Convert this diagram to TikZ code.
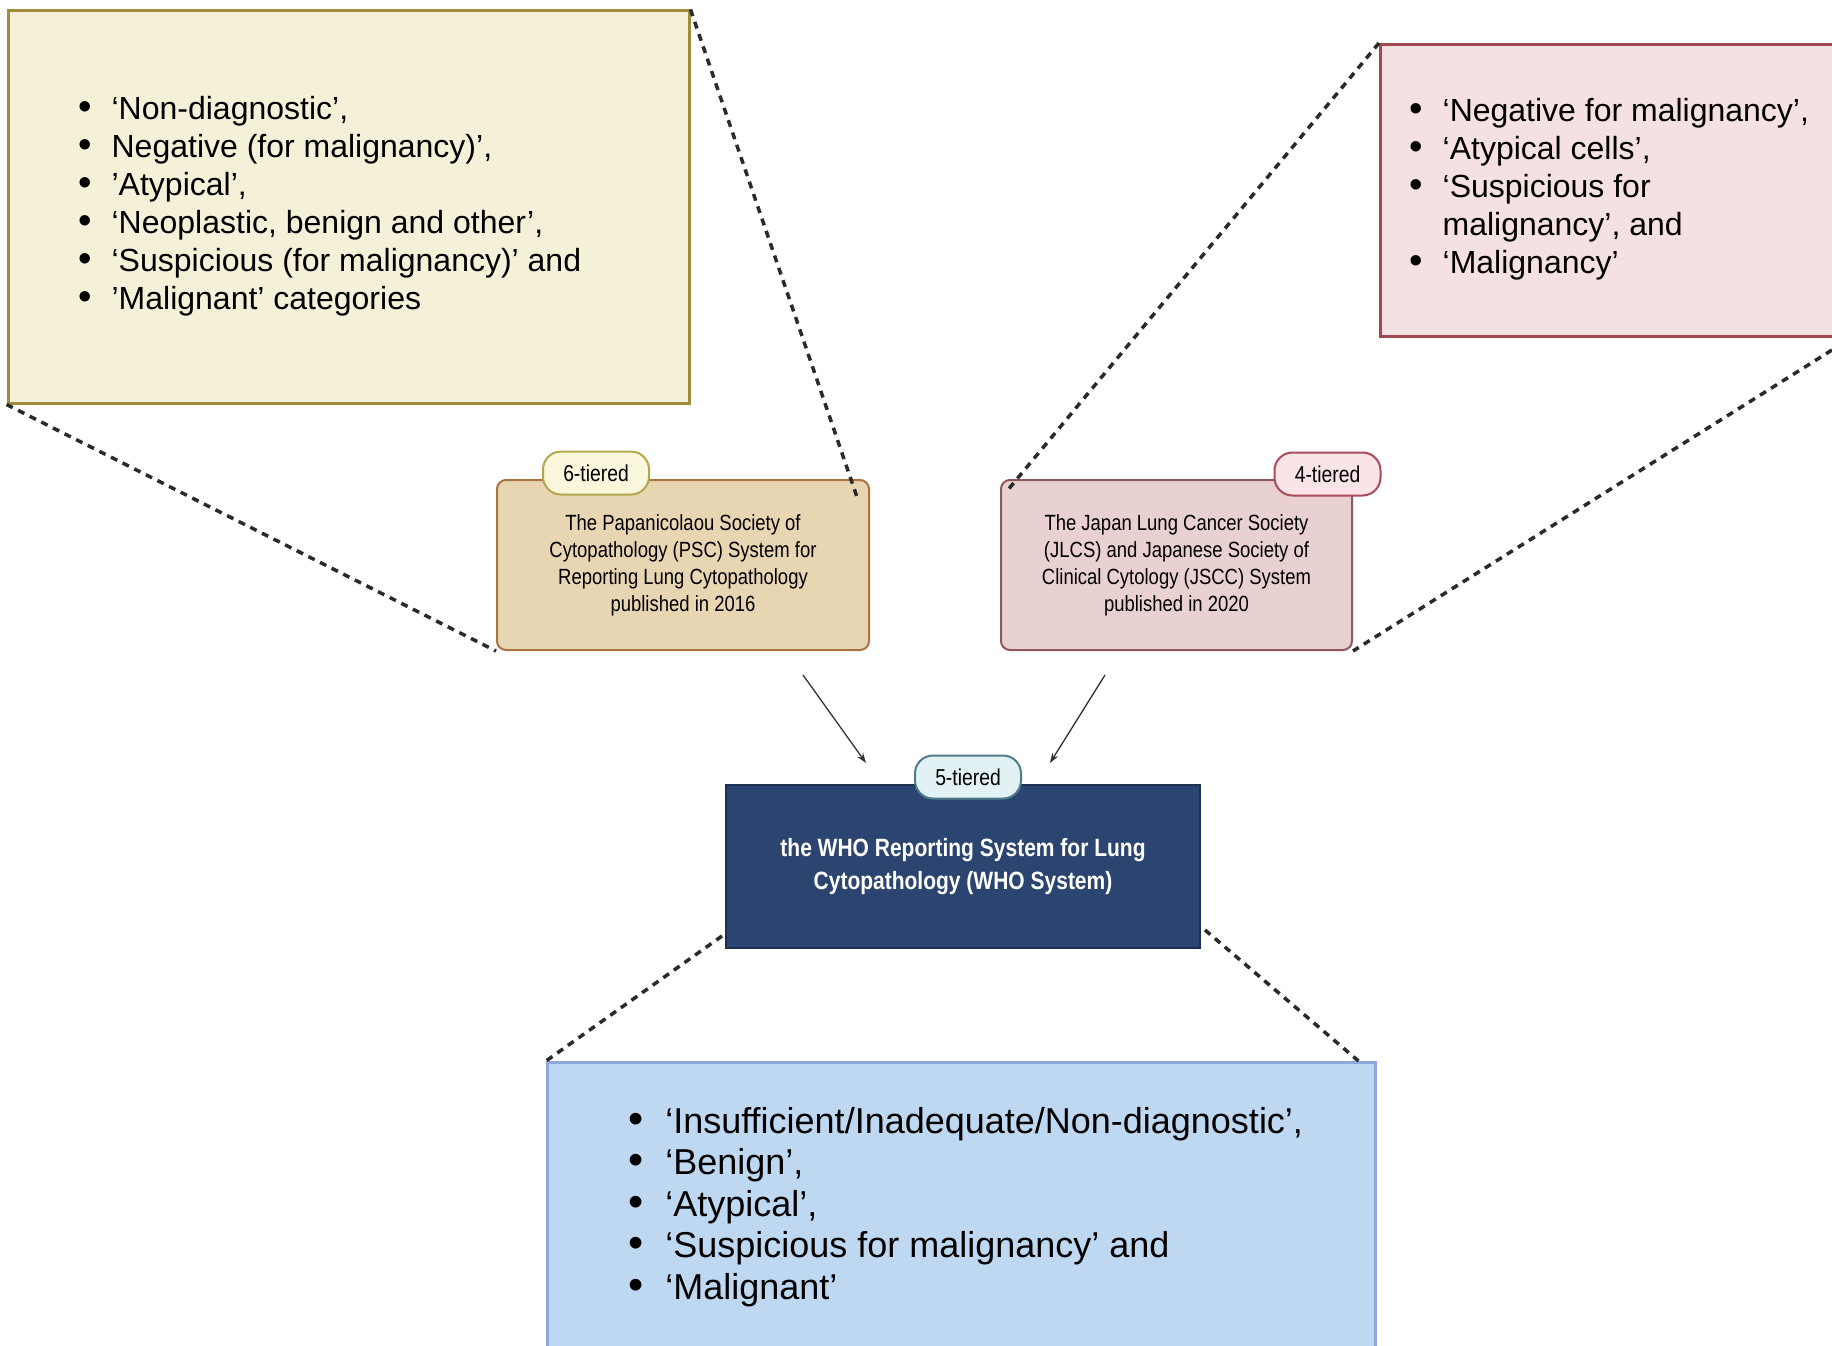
\documentclass[tikz,border=0pt]{standalone}
\usepackage{fontspec}
\setmainfont{Liberation Sans}
\newfontfamily\condf[FakeStretch=0.84]{Liberation Sans}
\usetikzlibrary{arrows.meta}
\definecolor{ylfill}{HTML}{F5F1D9}
\definecolor{ylline}{HTML}{A08C3C}
\definecolor{pkfill}{HTML}{F5E1E1}
\definecolor{pkline}{HTML}{A0474F}
\definecolor{pscfill}{HTML}{E8D6B3}
\definecolor{pscline}{HTML}{A9743F}
\definecolor{sixfill}{HTML}{FBF7DD}
\definecolor{sixline}{HTML}{B4A64C}
\definecolor{jlfill}{HTML}{E9D1D1}
\definecolor{jlline}{HTML}{8C5A5A}
\definecolor{fourfill}{HTML}{FBE4E8}
\definecolor{fourline}{HTML}{A84A5A}
\definecolor{whofill}{HTML}{2C4570}
\definecolor{wholine}{HTML}{1F2F50}
\definecolor{fivefill}{HTML}{E2F1F4}
\definecolor{fiveline}{HTML}{4C7C88}
\definecolor{blfill}{HTML}{BFD8F1}
\definecolor{blline}{HTML}{8EA9D9}
\definecolor{dashc}{HTML}{2A2A2A}
\newcommand{\bul}{\scalebox{1.2}{\textbullet}}
\tikzset{
  bigbox/.style={rectangle, line width=3pt, inner sep=0pt},
  sysbox/.style={rectangle, rounded corners=9pt, line width=2pt, inner sep=0pt,
     align=center, font=\condf\fontsize{22}{27}\selectfont},
  tagbox/.style={rectangle, rounded corners=18pt, line width=2pt, inner sep=0pt,
     minimum width=106pt, minimum height=43pt, font=\condf\fontsize{23}{27}\selectfont},
  listtext/.style={anchor=west, inner sep=0pt, align=left},
  zoomline/.style={draw=dashc, line width=3.5pt, dash pattern=on 7pt off 6pt},
  flowarrow/.style={draw=black!80, line width=1.3pt, -{Stealth[length=10pt,width=7pt]}}
}
\begin{document}
\begin{tikzpicture}[x=1pt,y=-1pt]
\useasboundingbox[fill=white] (0,0) rectangle (1832,1346);

% big category boxes
\node[bigbox, draw=ylline, fill=ylfill, minimum width=681pt, minimum height=392pt] (yl) at (348.5,207) {};
\node[bigbox, draw=pkline, fill=pkfill, minimum width=500pt, minimum height=292pt, anchor=north west] (pk) at (1379,43) {};
\node[bigbox, line width=2.5pt, draw=blline, fill=blfill, minimum width=828pt, minimum height=320pt, anchor=north west] (bl) at (546,1061) {};

% lists
\node[listtext] (yltext) at (78,207) {\fontsize{32}{38}\selectfont
\begin{tabular}{@{}l@{\hspace{20pt}}l@{}}
\bul & ‘Non-diagnostic’,\\
\bul & Negative (for malignancy)’,\\
\bul & ’Atypical’,\\
\bul & ‘Neoplastic, benign and other’,\\
\bul & ‘Suspicious (for malignancy)’ and\\
\bul & ’Malignant’ categories
\end{tabular}};

\node[listtext] (pktext) at (1409,190) {\fontsize{32}{38}\selectfont
\begin{tabular}{@{}l@{\hspace{20pt}}l@{}}
\bul & ‘Negative for malignancy’,\\
\bul & ‘Atypical cells’,\\
\bul & ‘Suspicious for\\
 & malignancy’, and\\
\bul & ‘Malignancy’
\end{tabular}};

\node[listtext] (bltext) at (628,1208) {\fontsize{36}{41.5}\selectfont
\begin{tabular}{@{}l@{\hspace{22pt}}l@{}}
\bul & ‘Insufficient/Inadequate/Non-diagnostic’,\\
\bul & ‘Benign’,\\
\bul & ‘Atypical’,\\
\bul & ‘Suspicious for malignancy’ and\\
\bul & ‘Malignant’
\end{tabular}};

% system boxes
\node[sysbox, draw=pscline, fill=pscfill, minimum width=372pt, minimum height=170pt] (psc) at (683,565)
 {The Papanicolaou Society of\\Cytopathology (PSC) System for\\Reporting Lung Cytopathology\\published in 2016};
\node[sysbox, draw=jlline, fill=jlfill, minimum width=351pt, minimum height=170pt] (jl) at (1176.5,565)
 {The Japan Lung Cancer Society\\(JLCS) and Japanese Society of\\Clinical Cytology (JSCC) System\\published in 2020};
\node[rectangle, line width=2pt, draw=wholine, fill=whofill, minimum width=474pt, minimum height=163pt,
  text=white, align=center, font=\condf\bfseries\fontsize{25}{33}\selectfont] (who) at (963,866.5)
 {the WHO Reporting System for Lung\\Cytopathology (WHO System)};

% tags
\node[tagbox, draw=sixline, fill=sixfill] (six) at (596,473) {6-tiered};
\node[tagbox, draw=fourline, fill=fourfill] (four) at (1327.5,474) {4-tiered};
\node[tagbox, draw=fiveline, fill=fivefill] (five) at (968,777) {5-tiered};

% zoom connectors
\coordinate (pscin) at (858,500);
\coordinate (jlin) at (1007,491);
\coordinate (pkout) at (1832,350);
\draw[zoomline] (yl.south west) -- (psc.south west);
\draw[zoomline] (yl.north east) -- (pscin);
\draw[zoomline] (pk.north west) -- (jlin);
\draw[zoomline] (pkout) -- (jl.south east);
\draw[zoomline] ([xshift=-3pt,yshift=13pt]who.south west) -- (bl.north west);
\draw[zoomline] ([xshift=4pt,yshift=19pt]who.south east) -- ([xshift=-18pt]bl.north east);

% arrows
\coordinate (a1s) at (803,675);
\coordinate (a1e) at (866,763);
\coordinate (a2s) at (1105,675);
\coordinate (a2e) at (1050,763);
\draw[flowarrow] (a1s) -- (a1e);
\draw[flowarrow] (a2s) -- (a2e);
\end{tikzpicture}
\end{document}
